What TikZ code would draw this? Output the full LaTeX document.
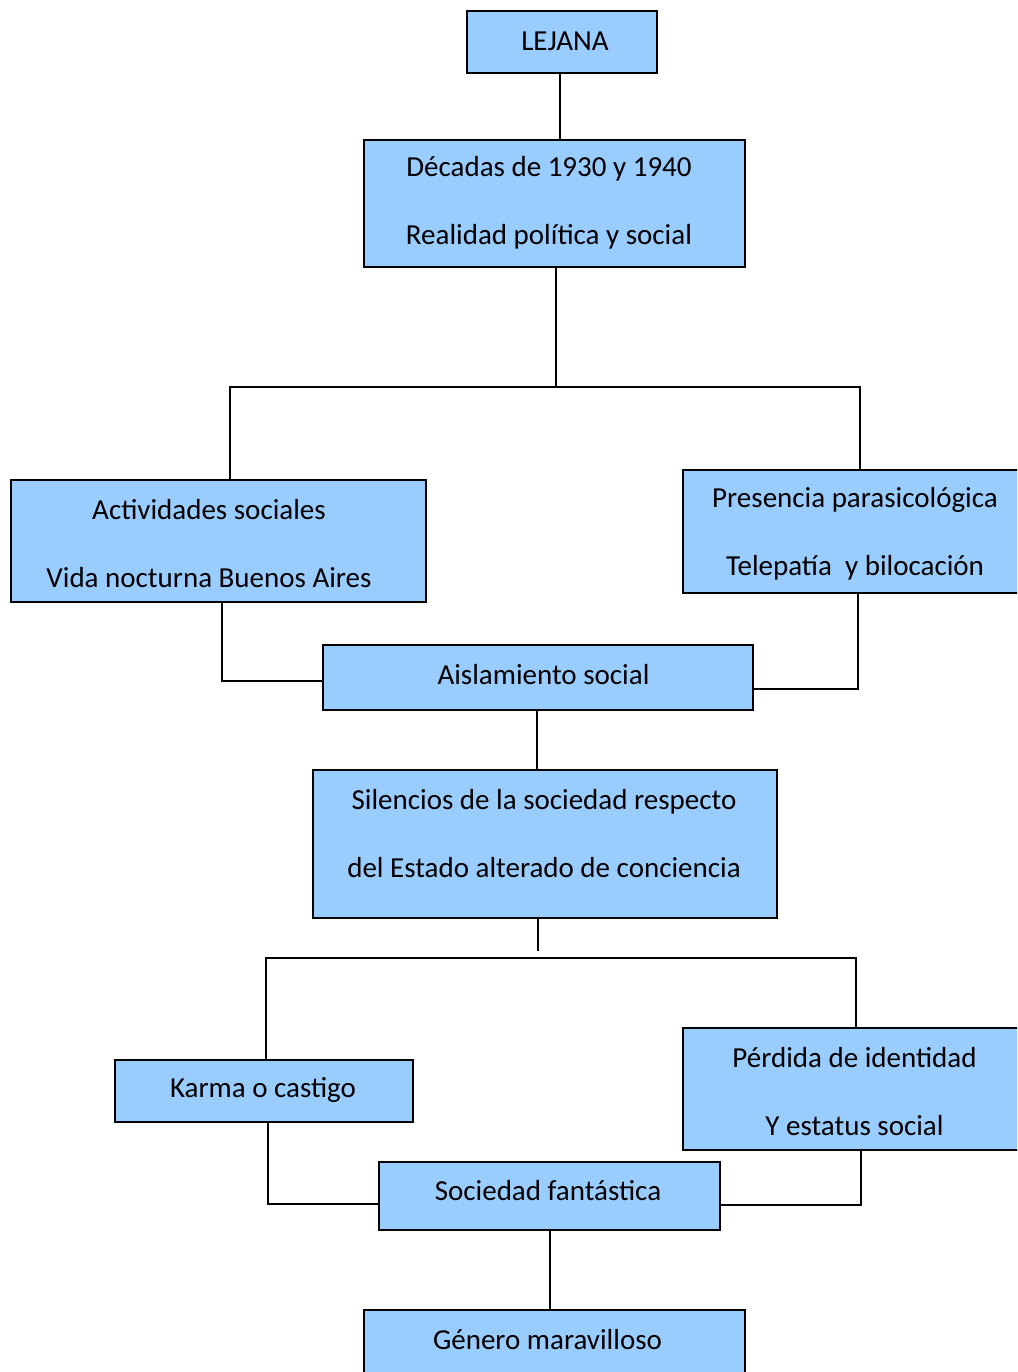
\documentclass[tikz,border=0pt]{standalone}
\usepackage{fontspec}
\setmainfont{Carlito}
\definecolor{boxblue}{HTML}{99CCFF}
\begin{document}
\begin{tikzpicture}[x=1pt,y=-1pt,
  box/.style={draw=black,fill=boxblue,line width=1.6pt,inner sep=0pt},
  txt/.style={inner sep=0pt,align=center,font=\fontsize{29}{68}\selectfont},
  conn/.style={draw=black,line width=1.8pt}]
\useasboundingbox (0,0) rectangle (1017,1372);
\clip (0,0) rectangle (1017,1372);
\node[box,minimum width=190,minimum height=62] (lej) at (562,42) {};
\node[box,minimum width=381,minimum height=127] (dec) at (554.5,203.5) {};
\node[box,minimum width=415,minimum height=122] (act) at (218.5,541) {};
\node[box,minimum width=344,minimum height=123] (pre) at (855,531.5) {};
\node[box,minimum width=430,minimum height=65] (ais) at (538,677.5) {};
\node[box,minimum width=464,minimum height=148] (sil) at (545,844) {};
\node[box,minimum width=298,minimum height=62] (kar) at (264,1091) {};
\node[box,minimum width=344,minimum height=122] (per) at (855,1089) {};
\node[box,minimum width=341,minimum height=68] (soc) at (549.5,1196) {};
\node[box,minimum width=381,minimum height=64] (gen) at (554.5,1342) {};
\node[txt] (lejt) at (565,41) {LEJANA};
\node[txt] (dect) at (549,203) {Décadas de 1930 y 1940\\Realidad política y social};
\node[txt] (actt) at (209,544) {Actividades sociales\\Vida nocturna Buenos Aires};
\node[txt] (pret) at (855,534) {Presencia parasicológica\\Telepatía\ \ y bilocación};
\node[txt] (aist) at (543.5,675) {Aislamiento social};
\node[txt] (silt) at (544,834) {Silencios de la sociedad respecto\\del Estado alterado de conciencia};
\node[txt] (kart) at (263,1090) {Karma o castigo};
\node[txt] (pert) at (854.5,1092) {Pérdida de identidad\\Y estatus social};
\node[txt] (soct) at (548,1191) {Sociedad fantástica};
\node[txt] (gent) at (547.5,1340) {Género maravilloso};
\coordinate (c0) at (560,0);
\coordinate (t1) at (556,387);
\coordinate (ha) at (230,387);
\coordinate (hb) at (860,387);
\coordinate (c1) at (222,681);
\coordinate (c2) at (858,689);
\coordinate (c3) at (537,0);
\coordinate (c4) at (538,951);
\coordinate (hc) at (266,958);
\coordinate (hd) at (856,958);
\coordinate (c5) at (268,1204);
\coordinate (c6) at (861,1205);
\coordinate (c7) at (550,0);
\draw[conn] (lej.south -| c0) -- (dec.north -| c0);
\draw[conn] (dec.south -| t1) -- (t1);
\draw[conn] (act.north -| ha) |- (hb) -- (pre.north -| hb);
\draw[conn] (act.south -| c1) |- (ais.west |- c1);
\draw[conn] (pre.south -| c2) |- (ais.east |- c2);
\draw[conn] (ais.south -| c3) -- (sil.north -| c3);
\draw[conn] (sil.south -| c4) -- (c4);
\draw[conn] (kar.north -| hc) |- (hd) -- (per.north -| hd);
\draw[conn] (kar.south -| c5) |- (soc.west |- c5);
\draw[conn] (per.south -| c6) |- (soc.east |- c6);
\draw[conn] (soc.south -| c7) -- (gen.north -| c7);
\end{tikzpicture}
\end{document}
